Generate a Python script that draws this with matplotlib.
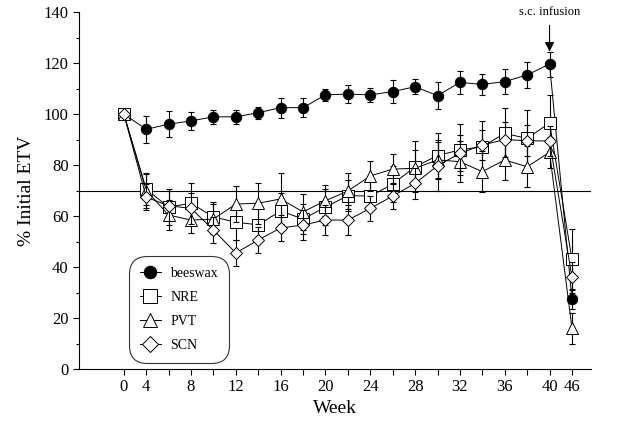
import numpy as np
from matplotlib import pyplot as plt
from matplotlib.lines import Line2D

plt.rcParams['font.family'] = ['Liberation Serif', 'DejaVu Serif']

weeks = [0, 4, 6, 8, 10, 12, 14, 16, 18, 20, 22, 24, 26, 28, 30, 32, 34, 36, 38, 40, 46]
tick_weeks = [0, 4, 8, 12, 16, 20, 24, 28, 32, 36, 40, 46]

beeswax = [100, 94, 96, 97.3, 98.9, 98.9, 100.5, 102.5, 102.5, 107.5, 107.8, 107.5, 108.8,
           110.7, 107.2, 112.4, 111.6, 112.7, 115.3, 119.6, 27.5]
beeswax_err = [0, 5.2, 5.2, 3.5, 2.7, 2.7, 2.4, 3.9, 3.6, 2.5, 3.4, 2.7, 4.4, 3, 5.4, 4.6,
               4.2, 4.9, 5, 4.9, 4]
nre = [100, 70.5, 63.5, 65, 59.6, 57.6, 56.5, 62, 58.8, 63.5, 68, 67.8, 72.5, 79.3, 83.7,
       85.9, 87.2, 92.4, 90.4, 96.5, 43]
nre_err = [0, 6, 7, 8, 6, 7, 7, 7, 6, 7, 6, 6, 7, 10, 9, 10, 10, 10, 11, 11, 12]
pvt = [100, 70, 60.4, 58.4, 58.8, 64.7, 65, 66.7, 61.6, 66, 69.8, 75.7, 78.4, 78.7, 82,
       81.3, 77.4, 82, 79.3, 85, 16]
pvt_err = [0, 7, 6, 5, 6, 7, 8, 10, 7, 6, 7, 6, 6, 7, 7, 8, 8, 8, 8, 6, 6]
scn = [100, 67.4, 64, 63, 54.5, 45.5, 50.6, 55.3, 56.5, 58.4, 58.4, 63, 67.8, 72.8, 79.7,
       84.6, 87.8, 90, 89.5, 89.4, 36]
scn_err = [0, 5, 6, 6, 5, 5, 5, 5, 6, 6, 6, 5, 5, 6, 10, 7, 6, 7, 6, 6, 6]

# weeks are plotted at evenly spaced positions
pos = np.arange(len(weeks))


def main():
    fig = plt.figure(figsize=(6.26, 4.25), dpi=100)
    ax = fig.add_axes([79 / 626, 1 - 369 / 425, 512 / 626, 357 / 425])

    ax.axhline(70, color='black', lw=0.8, zorder=1)

    series = [
        (beeswax, beeswax_err, 'o', 'black', 7.5, 'beeswax'),
        (nre, nre_err, 's', 'white', 8, 'NRE'),
        (pvt, pvt_err, '^', 'white', 8.5, 'PVT'),
        (scn, scn_err, 'D', 'white', 6.5, 'SCN'),
    ]
    handles = []
    for i, (vals, err, mk, fc, ms, label) in enumerate(series):
        ax.errorbar(pos, vals, yerr=err, fmt='-', color='black', lw=0.7,
                    elinewidth=0.8, capsize=2.5, capthick=0.8, zorder=2 + i)
        ax.plot(pos, vals, linestyle='none', marker=mk, mfc=fc, mec='black',
                mew=0.7, ms=ms, zorder=3 + i)
        handles.append(Line2D([0], [0], color='black', lw=0.7, marker=mk, mfc=fc,
                              mec='black', mew=0.7, ms=ms + 1.5, label=label))

    leg = ax.legend(handles=handles, loc='lower left', bbox_to_anchor=(0.1, 0.02),
                    frameon=True, fancybox=True, edgecolor='black', fontsize=10,
                    handlelength=1.5, borderpad=0.7, labelspacing=0.8,
                    handletextpad=0.7, borderaxespad=0)
    leg.get_frame().set_linewidth(0.8)
    leg.get_frame().set_boxstyle('round,pad=0.1,rounding_size=1.3')

    ax.annotate('s.c. infusion', xy=(19, 124.5), xytext=(19, 137.5),
                ha='center', va='bottom', fontsize=9,
                arrowprops=dict(arrowstyle='-|>', color='black', lw=0.8,
                                mutation_scale=14, shrinkA=3, shrinkB=0))

    ax.set_xlim(-2.0, 20.85)
    ax.set_ylim(0, 140)
    ax.set_xticks(pos, minor=False)
    ax.set_xticklabels([str(w) if w in tick_weeks else '' for w in weeks])
    ax.set_yticks(np.arange(0, 141, 20))
    ax.set_yticks(np.arange(0, 141, 10), minor=True)
    ax.tick_params(axis='both', which='major', direction='out', length=4, width=0.8,
                   labelsize=12)
    ax.tick_params(axis='y', which='minor', direction='out', length=2.5, width=0.8)
    for s in ['top', 'right']:
        ax.spines[s].set_visible(False)
    for s in ['left', 'bottom']:
        ax.spines[s].set_linewidth(0.8)

    ax.set_xlabel('Week', fontsize=14, labelpad=3)
    ax.set_ylabel('% Initial ETV', fontsize=14, labelpad=6)

    fig.savefig('out.png', dpi=100)


if __name__ == '__main__':
    main()
